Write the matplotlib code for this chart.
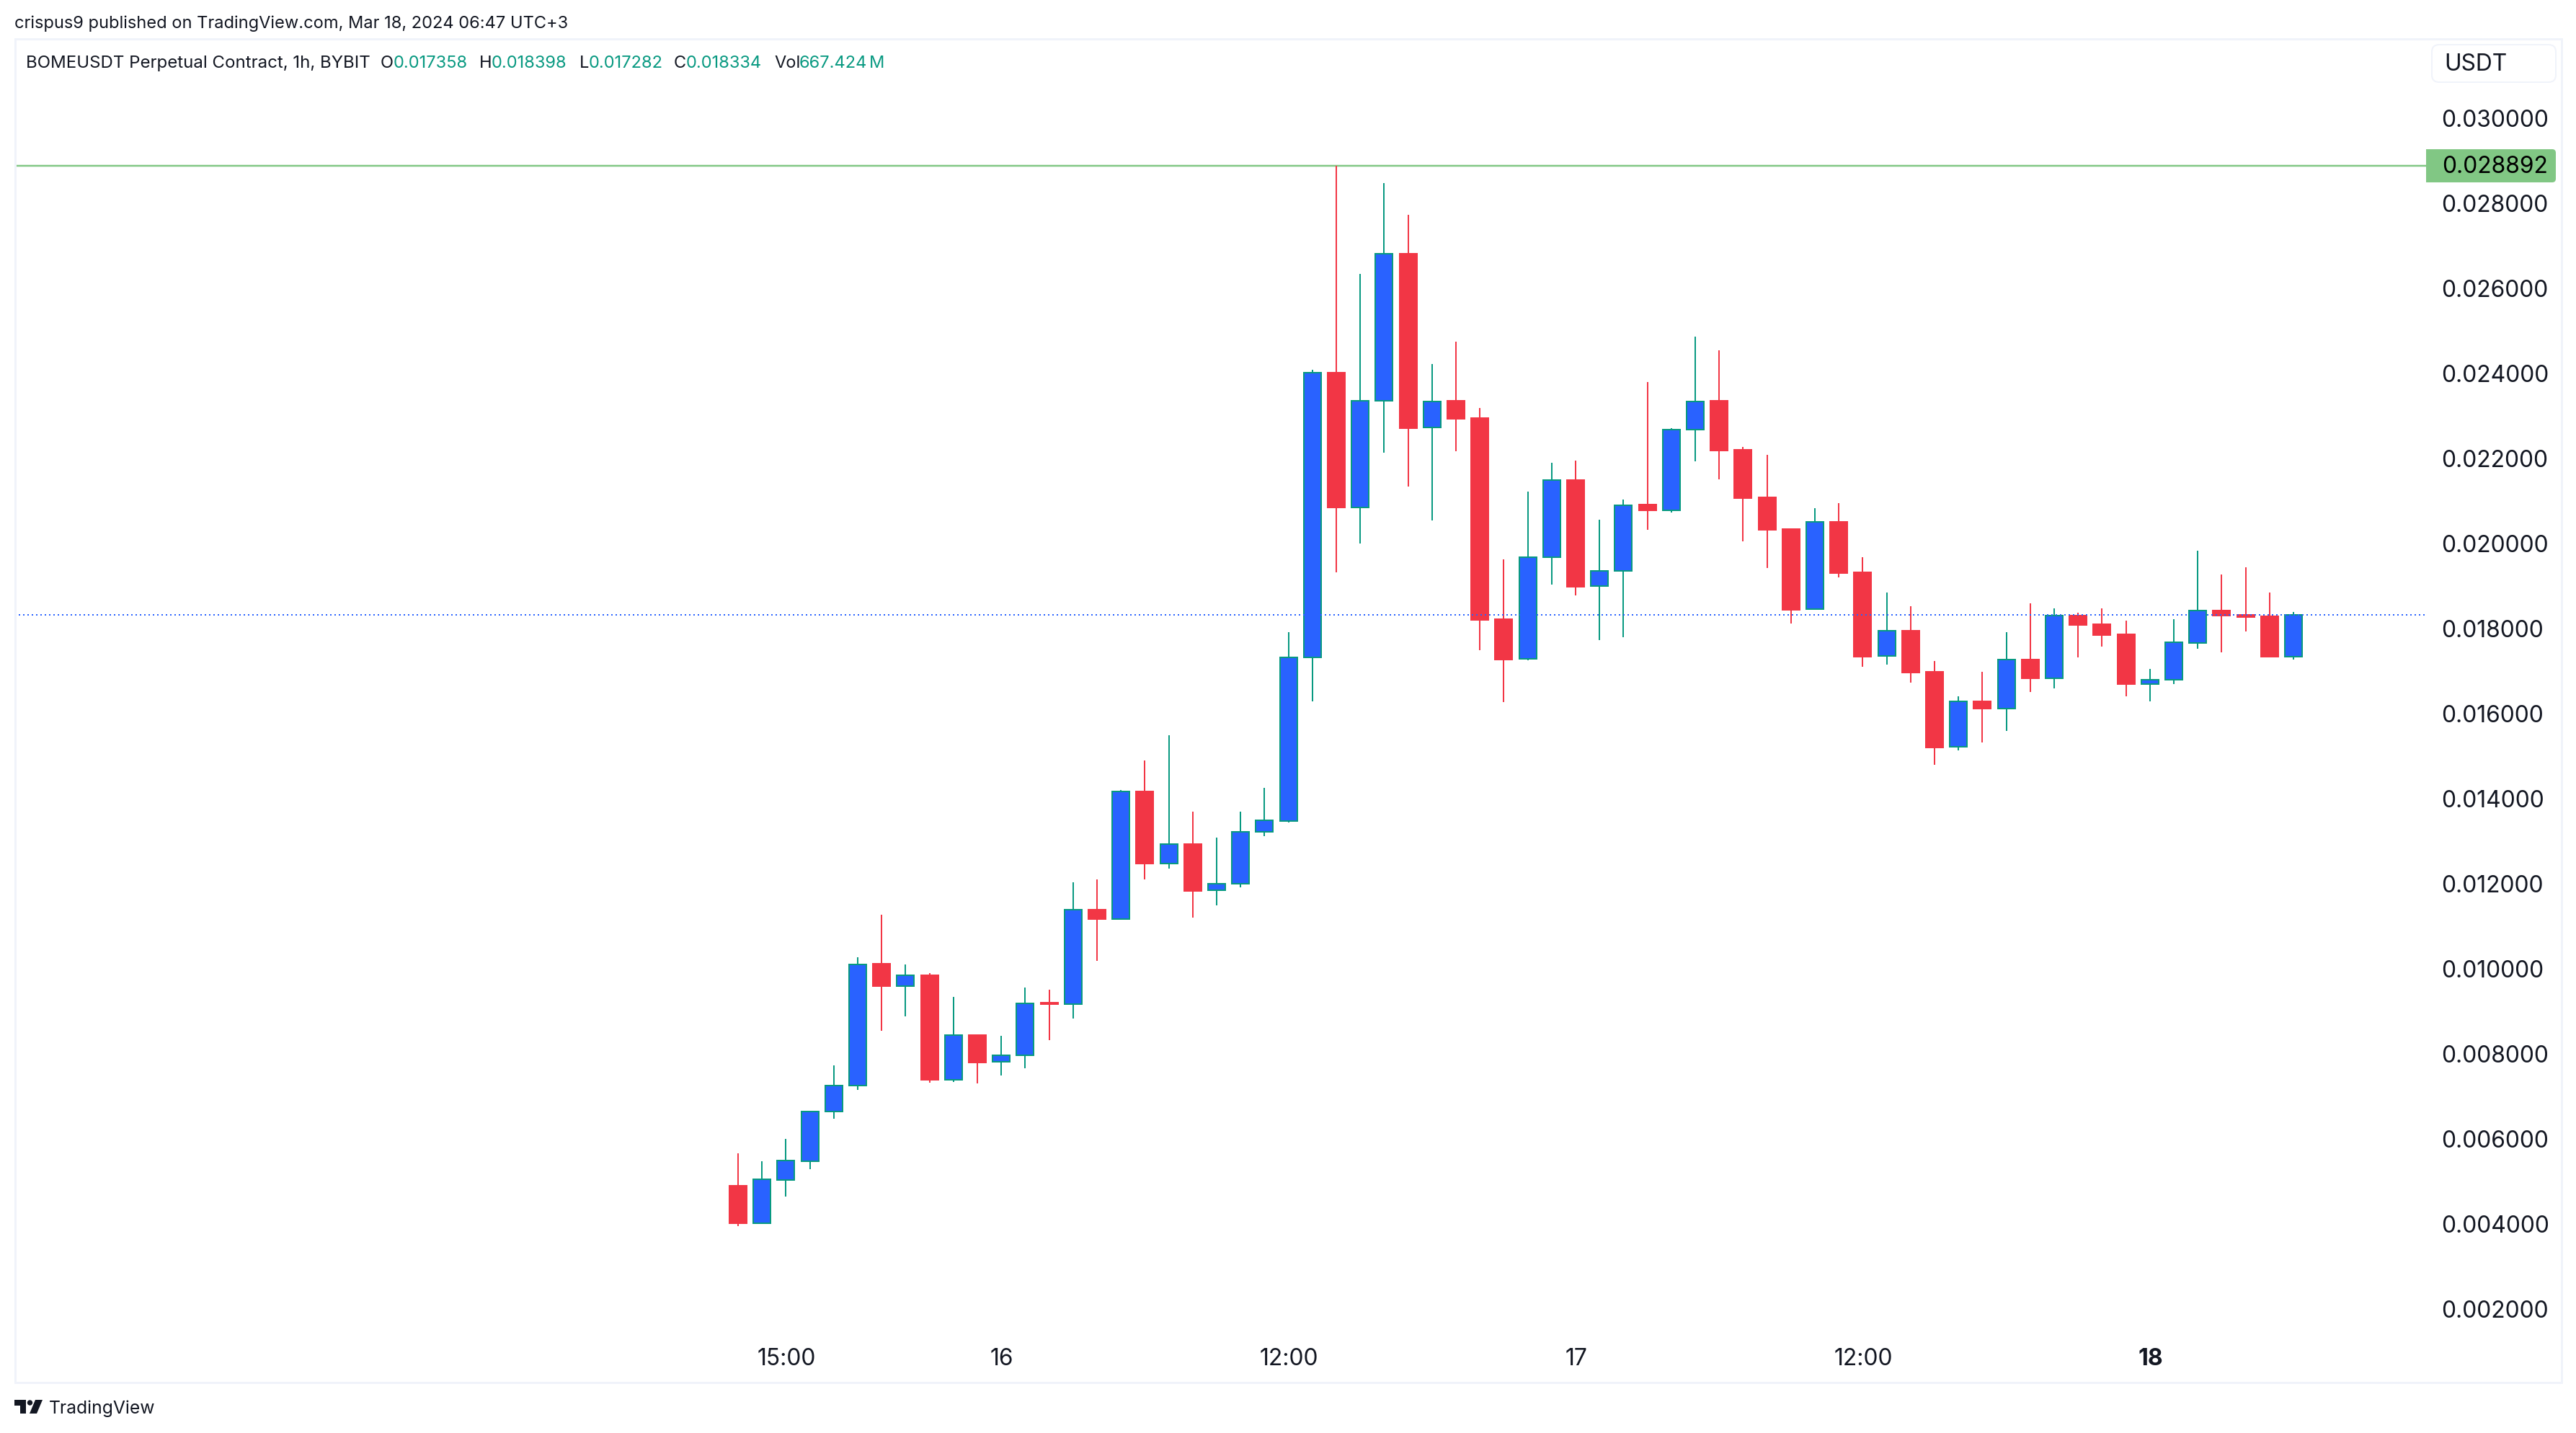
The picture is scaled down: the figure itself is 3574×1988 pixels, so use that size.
import matplotlib
matplotlib.use('Agg')
import matplotlib.pyplot as plt
from matplotlib.patches import Rectangle, FancyBboxPatch, Polygon, Circle
from matplotlib.transforms import ScaledTranslation

plt.rcParams['font.family'] = ['Inter', 'DejaVu Sans']

W, H = 3574, 1988
DPI = 100
PX = 72 / DPI  # one pixel in points

# BOMEUSDT 1h candles
opens = [0.004914, 0.004028, 0.005052, 0.005495, 0.006650, 0.007259, 0.010129, 0.009611, 0.009860, 0.007411, 0.008455,
         0.007819, 0.007971, 0.009216, 0.009175, 0.011402, 0.011188, 0.014182, 0.012495, 0.012944, 0.011852, 0.012004,
         0.013228, 0.013493, 0.017337, 0.024030, 0.020865, 0.023373, 0.026823, 0.022733, 0.023364, 0.022958, 0.018228,
         0.017294, 0.019698, 0.021505, 0.019006, 0.019361, 0.020926, 0.020796, 0.022681, 0.023364, 0.022214, 0.021099,
         0.020350, 0.018461, 0.020523, 0.019333, 0.017362, 0.017964, 0.016995, 0.015224, 0.016303, 0.016137, 0.017286,
         0.016850, 0.018316, 0.018116, 0.017880, 0.016712, 0.016801, 0.017680, 0.018434, 0.018337, 0.018302, 0.017358]
highs = [0.005675, 0.005488, 0.006014, 0.006657, 0.007743, 0.010281, 0.011284, 0.010115, 0.009915, 0.009355, 0.008469,
         0.008435, 0.009576, 0.009521, 0.012045, 0.012114, 0.014216, 0.014911, 0.015504, 0.013708, 0.013098, 0.013708,
         0.014267, 0.017925, 0.024099, 0.028892, 0.026348, 0.028483, 0.027740, 0.024229, 0.024757, 0.023200, 0.019638,
         0.021229, 0.021912, 0.021964, 0.020572, 0.021047, 0.023805, 0.022725, 0.024878, 0.024549, 0.022284, 0.022093,
         0.020350, 0.020841, 0.020958, 0.019693, 0.018863, 0.018538, 0.017251, 0.016421, 0.016995, 0.017929, 0.018607,
         0.018489, 0.018385, 0.018489, 0.018199, 0.017064, 0.018233, 0.019845, 0.019285, 0.019451, 0.018863, 0.018398]
lows = [0.003966, 0.004020, 0.004658, 0.005301, 0.006491, 0.007169, 0.008559, 0.008898, 0.007335, 0.007356, 0.007321,
        0.007508, 0.007674, 0.008338, 0.008843, 0.010198, 0.011180, 0.012114, 0.012370, 0.011215, 0.011506, 0.011928,
        0.013131, 0.013454, 0.016300, 0.019335, 0.020009, 0.022145, 0.021350, 0.020554, 0.022180, 0.017502, 0.016283,
        0.017268, 0.019041, 0.018790, 0.017744, 0.017804, 0.020329, 0.020736, 0.021946, 0.021523, 0.020061, 0.019439,
        0.018129, 0.018460, 0.019215, 0.017113, 0.017168, 0.016739, 0.014809, 0.015148, 0.015335, 0.015605, 0.016525,
        0.016608, 0.017334, 0.017590, 0.016421, 0.016303, 0.016705, 0.017542, 0.017451, 0.017943, 0.017334, 0.017282]
closes = [0.004028, 0.005059, 0.005502, 0.006657, 0.007259, 0.010122, 0.009604, 0.009853, 0.007404, 0.008448, 0.007812,
          0.007971, 0.009195, 0.009182, 0.011395, 0.011181, 0.014177, 0.012488, 0.012939, 0.011845, 0.012004, 0.013228,
          0.013499, 0.017337, 0.024022, 0.020857, 0.023373, 0.026823, 0.022725, 0.023356, 0.022941, 0.018211, 0.017286,
          0.019698, 0.021497, 0.018998, 0.019361, 0.020917, 0.020788, 0.022681, 0.023356, 0.022197, 0.021082, 0.020329,
          0.018455, 0.020516, 0.019319, 0.017355, 0.017957, 0.016981, 0.015217, 0.016296, 0.016130, 0.017279, 0.016843,
          0.018309, 0.018095, 0.017860, 0.016705, 0.016801, 0.017687, 0.018427, 0.018316, 0.018282, 0.017355, 0.018334]

price_ticks = [0.002, 0.004, 0.006, 0.008, 0.010, 0.012, 0.014, 0.016, 0.018, 0.020, 0.022, 0.024, 0.026, 0.028, 0.030]
time_tick_pos = [2, 11, 23, 35, 47, 59]
time_tick_labels = ['15:00', '16', '12:00', '17', '12:00', '18']

high_line = 0.028892
last_price = 0.018334

GREEN = '#089981'
RED = '#F23645'
BLUE = '#2962FF'
HIGH_GREEN = '#81C784'
TEXT = '#131722'
BORDER = '#F0F3FA'

# pane geometry in pixels, price axis starts at ax_r
ax_l, ax_r, ax_t, ax_b = 20, 3366, 56, 1856
step = 33.2       # pixels per candle
first_x = 1024    # pixel of first candle
px_per_price = 59006
ref_y = 230       # pixel of high_line

fig = plt.figure(figsize=(W / DPI, H / DPI), dpi=DPI, facecolor='white')
ax = fig.add_axes([ax_l / W, 1 - ax_b / H, (ax_r - ax_l) / W, (ax_b - ax_t) / H])
ax.set_xlim((ax_l - first_x) / step, (ax_r - first_x) / step)
ax.set_ylim(high_line - (ax_b - ref_y) / px_per_price, high_line + (ref_y - ax_t) / px_per_price)
for s in ax.spines.values():
    s.set_visible(False)


def fx(x):
    return x / W


def fy(y):
    return 1 - y / H


def label(x, y, s, color=TEXT, size=17, **kw):
    fig.text(fx(x), fy(y), s, color=color, fontsize=size, va='center', **kw)


# candles
for i in range(len(opens)):
    up = closes[i] >= opens[i]
    wick = GREEN if up else RED
    ax.vlines(i, lows[i], highs[i], color=wick, linewidth=2 * PX, zorder=2)
    ax.bar(i, abs(closes[i] - opens[i]), bottom=min(opens[i], closes[i]), width=0.723,
           facecolor=BLUE if up else RED, edgecolor=wick, linewidth=2 * PX, zorder=3)

ax.axhline(high_line, color=HIGH_GREEN, linewidth=2.5 * PX, zorder=1)
ax.axhline(last_price, color=BLUE, linewidth=2 * PX, linestyle=(0, (1, 2)), zorder=4)

# axes ticks
ax.yaxis.tick_right()
ax.set_yticks(price_ticks)
ax.set_yticklabels(['%.6f' % p for p in price_ticks], fontsize=22.9, color=TEXT)
ax.tick_params(axis='y', length=0, pad=21 * PX)
ax.set_xticks(time_tick_pos)
ax.set_xticklabels(time_tick_labels, fontsize=22.9, color=TEXT)
ax.tick_params(axis='x', length=0, pad=10)
ax.get_xticklabels()[-1].set_fontweight('bold')
# small label offsets to sit where the original has them
nudge = ScaledTranslation(1 / DPI, 0, fig.dpi_scale_trans)
for t in ax.get_xticklabels():
    t.set_transform(t.get_transform() + nudge)
nudge_up = ScaledTranslation(0, 1 / DPI, fig.dpi_scale_trans)
for t in ax.get_yticklabels():
    t.set_transform(t.get_transform() + nudge_up)

# outer pane border
fig.add_artist(Rectangle((fx(21), fy(1918)), (3554 - 21) / W, (1918 - 54) / H, transform=fig.transFigure,
                         facecolor='none', edgecolor=BORDER, linewidth=3 * PX))

# currency button
fig.add_artist(FancyBboxPatch((3374, H - 114), 172, 52, boxstyle='round,pad=0,rounding_size=10',
                              transform=None, facecolor='white', edgecolor=BORDER, linewidth=2 * PX))
label(3391, 89, 'USDT', size=22.9)

# high price tag
fig.add_artist(FancyBboxPatch((3366, H - 253), 180, 46, boxstyle='round,pad=0,rounding_size=5',
                              transform=None, facecolor=HIGH_GREEN, edgecolor='none'))
fig.add_artist(Rectangle((3366, H - 253), 12, 46, transform=None, facecolor=HIGH_GREEN, edgecolor='none'))
label(3388, 231, '%.6f' % high_line, color='black', size=22.9)

# header texts
label(20, 33, 'crispus9 published on TradingView.com, Mar 18, 2024 06:47 UTC+3')
label(36, 88, 'BOMEUSDT Perpetual Contract, 1h, BYBIT', size=17.3)
legend_parts = [(528, 'O', TEXT), (546, '0.017358', GREEN), (665, 'H', TEXT), (682, '0.018398', GREEN),
                (804, 'L', TEXT), (817, '0.017282', GREEN), (935, 'C', TEXT), (952, '0.018334', GREEN),
                (1074, 'Vol', TEXT), (1109, '667.424', GREEN), (1206, 'M', GREEN)]
for x, s, c in legend_parts:
    label(x, 88, s, color=c)

# footer logo
LOGO = '#131722'
fig.add_artist(Polygon([(x, H - y) for x, y in [(20, 1942), (36, 1942), (36, 1961), (28, 1961), (28, 1950), (20, 1950)]],
                       transform=None, facecolor=LOGO, edgecolor='none'))
fig.add_artist(Circle((41.5, H - 1946), 3.7, transform=None, facecolor=LOGO, edgecolor='none'))
fig.add_artist(Polygon([(x, H - y) for x, y in [(49, 1942), (59, 1942), (51, 1961), (41, 1961)]],
                       transform=None, facecolor=LOGO, edgecolor='none'))
label(68, 1954, 'TradingView', size=17.8)

fig.savefig('out.png', dpi=DPI, facecolor='white')
